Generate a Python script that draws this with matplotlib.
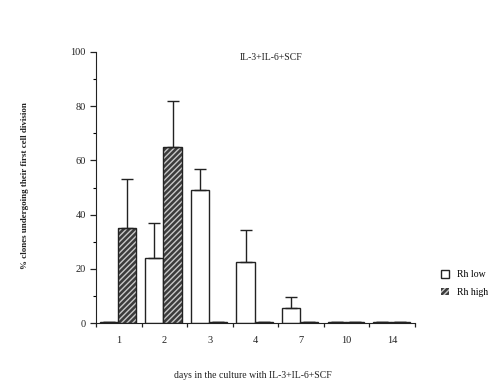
import matplotlib
matplotlib.use('Agg')
import matplotlib.pyplot as plt
import numpy as np

days = ['1', '2', '3', '4', '7', '10', '14']
rh_low = [0.3, 24, 49, 22.5, 5.5, 0.3, 0.3]
rh_low_err = [0, 13, 8, 12, 4, 0, 0]
rh_high = [35, 65, 0.3, 0.3, 0.3, 0.3, 0.3]
rh_high_err = [18, 17, 0, 0, 0, 0, 0]

plt.rcParams['font.family'] = 'Liberation Serif'
plt.rcParams['hatch.linewidth'] = 1.0

fig = plt.figure(figsize=(5.03, 3.87), dpi=100)
ax = fig.add_axes([0.191, 0.165, 0.634, 0.701])

x = np.arange(len(days))
w = 0.4
low_err = [np.zeros(len(days)), rh_low_err]
high_err = [np.zeros(len(days)), rh_high_err]
ekw = dict(ecolor='#222222', elinewidth=1.0, capsize=4, capthick=1.0)

ax.bar(x - 0.22, rh_low, w, color='white', edgecolor='#222222', linewidth=1.0,
       yerr=low_err, error_kw=ekw, label='Rh low')
# hatched fill: dark face with light stripes, outline drawn on top
hb = ax.bar(x + 0.18, rh_high, w, color='#3c3c3c', edgecolor='#c8c8c8', linewidth=0,
            hatch='//////', yerr=high_err, error_kw=ekw)
ax.bar(x + 0.18, rh_high, w, fill=False, edgecolor='#222222', linewidth=1.0)

ax.set_xlim(-0.5, 6.5)
ax.set_ylim(0, 100)
ax.spines['top'].set_visible(False)
ax.spines['right'].set_visible(False)
ax.spines['left'].set_color('#222222')
ax.spines['bottom'].set_color('#222222')

ax.set_yticks([0, 20, 40, 60, 80, 100])
ax.set_yticks([10, 30, 50, 70, 90], minor=True)
ax.tick_params(axis='y', labelsize=7.5, length=4, width=0.9, colors='#222222')
ax.tick_params(axis='y', which='minor', length=2.5, width=0.8)

# ticks on category boundaries, labels in the middle
ax.set_xticks(np.arange(-0.5, 6.6, 1.0))
ax.set_xticklabels([])
ax.set_xticks(x, minor=True)
ax.set_xticklabels(days, minor=True)
ax.tick_params(axis='x', which='major', length=3, width=0.9, colors='#222222')
ax.tick_params(axis='x', which='minor', length=0, labelsize=7.5, pad=9, colors='#222222')

ax.text(0.55, 0.995, 'IL-3+IL-6+SCF', transform=ax.transAxes, ha='center', va='top',
        fontsize=7, color='#222222')

fig.text(0.05, 0.52, '% clones undergoing their first cell division', rotation=90,
         ha='center', va='center', fontsize=6.5, fontweight='bold', color='#222222')
fig.text(0.503, 0.03, 'days in the culture with IL-3+IL-6+SCF', ha='center', va='center',
         fontsize=7, color='#222222')

handles, labels = ax.get_legend_handles_labels()
handles.append(hb)
labels.append('Rh high')
ax.legend(handles, labels, loc='center left', bbox_to_anchor=(1.055, 0.146), frameon=False,
          fontsize=7, handlelength=0.8, handleheight=0.8, handletextpad=0.8, labelspacing=0.9)

fig.savefig('out.png', dpi=100)
